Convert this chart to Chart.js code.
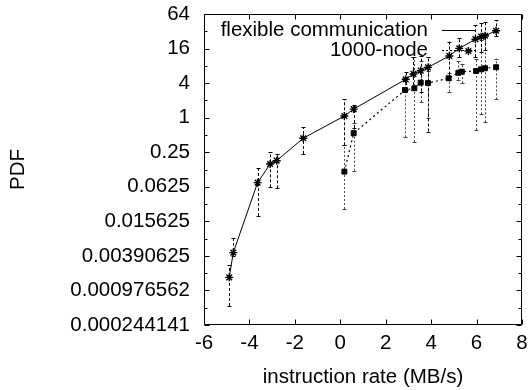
<!DOCTYPE html>
<html lang="en">
<head>
    <meta charset="UTF-8">
    <title>PDF vs instruction rate</title>
    <script src="https://cdn.jsdelivr.net/npm/chart.js"></script>
    <style>
        html, body { margin: 0; padding: 0; background: #fff; }
        #wrap { width: 530px; height: 390px; }
    </style>
</head>
<body>
    <div id="wrap"><canvas id="pdfChart" width="530" height="390"></canvas></div>

    <script>
        // series: flexible communication (asterisks, solid line)
        const xFlex = [-4.89, -4.71, -3.64, -3.09, -2.80, -1.63, 0.18, 0.59, 2.88, 3.22, 3.54, 3.86, 4.80, 5.24, 5.95, 6.20, 6.37, 6.86];
        const yFlex = [0.00165, 0.00446, 0.0737, 0.156, 0.178, 0.438, 1.07, 1.41, 4.66, 5.78, 6.59, 7.52, 11.9, 16.1, 23.3, 25.8, 26.7, 32.7];
        const loFlex = [0.000524, 0.0039, 0.0194, 0.0612, 0.0588, 0.233, 0.33, 0.66, 3.03, 3.03, 2.83, 0.574, 4.6, 11.3, 11.3, 13.9, 14.9, 26];
        const hiFlex = [0.0027, 0.0081, 0.131, 0.25, 0.233, 0.678, 2.11, 1.68, 6.32, 11.3, 12.1, 11.3, 21.1, 24.3, 41.1, 45.3, 46.9, 50.2];
        // stray asterisk that is not on the line
        const xStray = [5.64];
        const yStray = [14.5];

        // series: 1000-node (squares, dotted line)
        const xNode = [0.18, 0.59, 2.85, 3.26, 3.54, 3.86, 4.77, 5.20, 5.35, 5.98, 6.20, 6.37, 6.86];
        const yNode = [0.115, 0.536, 3.03, 3.25, 4.08, 4.0, 4.86, 6.06, 6.32, 6.5, 6.96, 7.26, 7.57];
        const loNode = [0.0257, 0.119, 0.454, 0.376, 1.87, 1.0, 2.83, 4.6, 4.0, 0.611, 1.15, 0.829, 2.08];
        const hiNode = [0.33, 0.807, 4.29, 11.3, 9.85, 6.5, 6.06, 9.85, 8.57, 10.6, 22.6, 27.9, 10.6];

        // y ticks (powers of two) and their labels as printed
        const yTickValues = [0.000244140625, 0.0009765625, 0.00390625, 0.015625, 0.0625, 0.25, 1, 4, 16, 64];
        const yTickLabels = ['0.000244141', '0.000976562', '0.00390625', '0.015625', '0.0625', '0.25', '1', '4', '16', '64'];
        const yMinorValues = [0.00048828125, 0.001953125, 0.0078125, 0.03125, 0.125, 0.5, 2, 8, 32];
        const xTickValues = [-6, -4, -2, 0, 2, 4, 6, 8];

        const FONT = 'Liberation Sans, Arial, Helvetica, sans-serif';
        const FSIZE = 20.5;

        function toPts(xs, ys) {
            return xs.map((x, i) => ({ x: x, y: ys[i] }));
        }

        // drop the extra room chart.js keeps for overhanging tick labels
        function noOverhang(s) {
            s.paddingTop = 0;
            s.paddingBottom = 0;
            s.paddingLeft = 0;
            s.paddingRight = 0;
        }

        // error bars, ticks, frame and key
        const gnuplotBits = {
            id: 'gnuplotBits',
            beforeDatasetsDraw(chart) {
                const ctx = chart.ctx;
                const xs = chart.scales.x, ys = chart.scales.y;
                const a = chart.chartArea;
                ctx.save();
                ctx.beginPath();
                ctx.rect(a.left, a.top, a.right - a.left, a.bottom - a.top);
                ctx.clip();
                const bars = [
                    { xv: xNode, lo: loNode, hi: hiNode, color: '#444', dash: [2, 2] },
                    { xv: xFlex, lo: loFlex, hi: hiFlex, color: '#000', dash: [3, 2] }
                ];
                bars.forEach(b => {
                    ctx.strokeStyle = b.color;
                    ctx.lineWidth = 1;
                    b.xv.forEach((xv, i) => {
                        const px = Math.round(xs.getPixelForValue(xv)) + 0.5;
                        const p1 = ys.getPixelForValue(b.lo[i]);
                        const p2 = ys.getPixelForValue(b.hi[i]);
                        ctx.setLineDash(b.dash);
                        ctx.beginPath();
                        ctx.moveTo(px, p1);
                        ctx.lineTo(px, p2);
                        ctx.stroke();
                        ctx.setLineDash([]);
                        ctx.beginPath();
                        ctx.moveTo(px - 2, Math.round(p1) + 0.5);
                        ctx.lineTo(px + 2, Math.round(p1) + 0.5);
                        ctx.moveTo(px - 2, Math.round(p2) + 0.5);
                        ctx.lineTo(px + 2, Math.round(p2) + 0.5);
                        ctx.stroke();
                    });
                });
                ctx.restore();
            },
            afterDraw(chart) {
                const ctx = chart.ctx;
                const xs = chart.scales.x, ys = chart.scales.y;
                const a = chart.chartArea;
                const L = Math.round(a.left) + 0.5, R = Math.round(a.right) - 0.5;
                const T = Math.round(a.top) + 0.5, B = Math.round(a.bottom) - 0.5;
                ctx.save();
                ctx.strokeStyle = '#000';
                ctx.lineWidth = 1;
                ctx.beginPath();
                ctx.rect(L, T, R - L, B - T);
                yTickValues.forEach(v => {
                    const py = Math.round(ys.getPixelForValue(v)) + 0.5;
                    ctx.moveTo(L, py); ctx.lineTo(L + 5, py);
                    ctx.moveTo(R, py); ctx.lineTo(R - 5, py);
                });
                yMinorValues.forEach(v => {
                    const py = Math.round(ys.getPixelForValue(v)) + 0.5;
                    ctx.moveTo(L, py); ctx.lineTo(L + 3, py);
                    ctx.moveTo(R, py); ctx.lineTo(R - 3, py);
                });
                xTickValues.forEach(v => {
                    const px = Math.round(xs.getPixelForValue(v)) + 0.5;
                    ctx.moveTo(px, B); ctx.lineTo(px, B - 5);
                    ctx.moveTo(px, T); ctx.lineTo(px, T + 5);
                });
                ctx.stroke();

                // key, top right
                ctx.font = FSIZE + 'px ' + FONT;
                ctx.fillStyle = '#000';
                ctx.textAlign = 'right';
                ctx.textBaseline = 'middle';
                const keyX = 428, sx1 = 442, sx2 = 476;
                const rows = [
                    { label: chart.data.datasets[0].label, y: 30, dash: [] },
                    { label: chart.data.datasets[1].label, y: 50, dash: [2, 2] }
                ];
                rows.forEach(r => {
                    ctx.fillText(r.label, keyX, r.y);
                    ctx.setLineDash(r.dash);
                    ctx.beginPath();
                    ctx.moveTo(sx1, r.y + 0.5);
                    ctx.lineTo(sx2, r.y + 0.5);
                    ctx.stroke();
                });
                ctx.restore();
            }
        };

        const ctx = document.getElementById('pdfChart').getContext('2d');
        new Chart(ctx, {
            type: 'scatter',
            data: {
                datasets: [
                    {
                        label: 'flexible communication',
                        data: toPts(xFlex, yFlex),
                        showLine: true,
                        borderColor: '#000',
                        backgroundColor: '#000',
                        borderWidth: 1,
                        pointStyle: 'star',
                        pointRadius: 4,
                        pointBorderWidth: 1.4,
                        fill: false
                    },
                    {
                        label: '1000-node',
                        data: toPts(xNode, yNode),
                        showLine: true,
                        borderColor: '#000',
                        backgroundColor: '#000',
                        borderWidth: 1.2,
                        borderDash: [2, 3],
                        pointStyle: 'rect',
                        pointRadius: 3.5,
                        pointBorderWidth: 1,
                        fill: false
                    },
                    {
                        label: 'stray',
                        data: toPts(xStray, yStray),
                        showLine: false,
                        borderColor: '#000',
                        pointStyle: 'star',
                        pointRadius: 4,
                        pointBorderWidth: 1.4
                    }
                ]
            },
            options: {
                responsive: false,
                animation: false,
                events: [],
                layout: { padding: { left: 0, right: 8, top: 14, bottom: 0 } },
                plugins: {
                    legend: { display: false },
                    tooltip: { enabled: false }
                },
                scales: {
                    x: {
                        type: 'linear',
                        min: -6,
                        max: 8,
                        grid: { display: false, drawTicks: false },
                        border: { display: false },
                        ticks: {
                            stepSize: 2,
                            padding: 6,
                            color: '#000',
                            font: { family: FONT, size: FSIZE },
                            maxRotation: 0
                        },
                        title: {
                            display: true,
                            text: 'instruction rate (MB/s)',
                            color: '#000',
                            font: { family: FONT, size: FSIZE },
                            padding: { top: 0, bottom: 0 }
                        },
                        afterFit: s => { s.height = 65; noOverhang(s); }
                    },
                    y: {
                        type: 'logarithmic',
                        min: yTickValues[0],
                        max: yTickValues[yTickValues.length - 1],
                        grid: { display: false, drawTicks: false },
                        border: { display: false },
                        afterBuildTicks: s => { s.ticks = yTickValues.map(v => ({ value: v })); },
                        ticks: {
                            autoSkip: false,
                            padding: 14,
                            color: '#000',
                            font: { family: FONT, size: FSIZE },
                            callback: (v, i) => yTickLabels[i]
                        },
                        title: {
                            display: true,
                            text: 'PDF',
                            color: '#000',
                            font: { family: FONT, size: FSIZE },
                            padding: { top: 6, bottom: 0 }
                        },
                        afterFit: s => { s.width = 204; noOverhang(s); }
                    }
                }
            },
            plugins: [gnuplotBits]
        });
    </script>
</body>
</html>
